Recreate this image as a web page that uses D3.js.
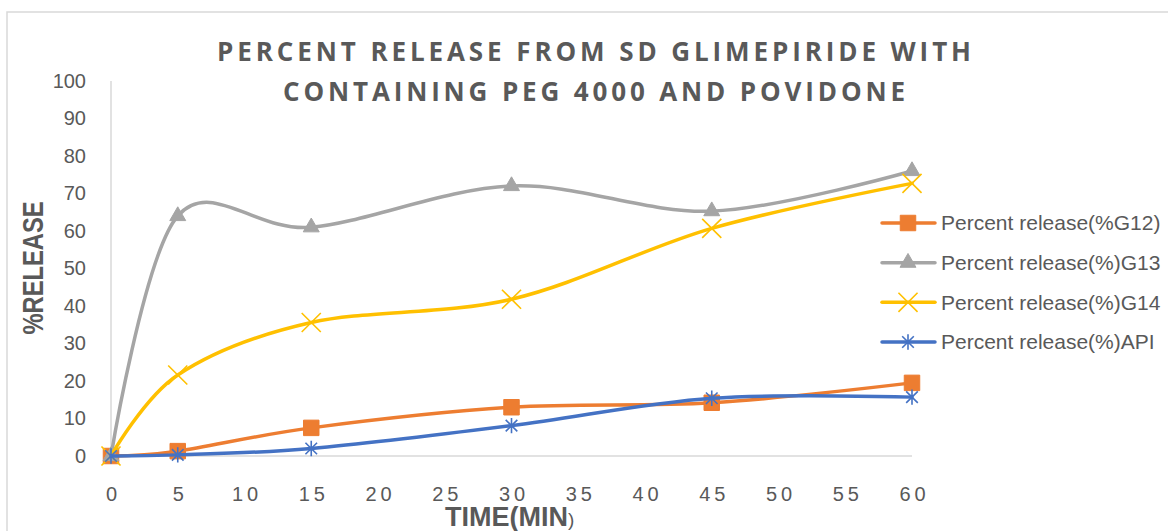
<!DOCTYPE html>
<html>
<head>
<meta charset="utf-8">
<script src="https://cdn.jsdelivr.net/npm/d3@7"></script>
<style>
  body { margin: 0; background: #fff; }
  svg { display: block; }
</style>
</head>
<body>
<svg id="chart" width="1168" height="531"></svg>
<script>
// values
const times = [0, 5, 15, 30, 45, 60];
const g12 = [0, 1.3, 7.5, 13, 14.2, 19.5];
const g13 = [0, 64, 61, 72, 65.3, 76];
const g14 = [0, 21.6, 35.6, 41.8, 60.7, 72.7];
const api = [0, 0.3, 2, 8.1, 15.4, 15.7];

const seriesNames = ["Percent release(%G12)", "Percent release(%)G13", "Percent release(%)G14", "Percent release(%)API"];
const seriesColors = ["#ED7D31", "#A5A5A5", "#FFC000", "#4472C4"];
const xTickValues = [0, 5, 10, 15, 20, 25, 30, 35, 40, 45, 50, 55, 60];
const yTickValues = [0, 10, 20, 30, 40, 50, 60, 70, 80, 90, 100];
const titleLines = ["PERCENT RELEASE FROM SD GLIMEPIRIDE WITH", "CONTAINING PEG 4000 AND POVIDONE"];

var svg = d3.select("#chart");
const width = +svg.attr("width");
const height = +svg.attr("height");
const textColor = "#595959";
const gridColor = "#D9D9D9";

// plot area
const plotLeft = 111, plotRight = 912, plotTop = 81, plotBottom = 456;

const x = d3.scaleLinear().domain([0, 60]).range([plotLeft, plotRight]);
const y = d3.scaleLinear().domain([0, 100]).range([plotBottom, plotTop]);

// chart border (runs off the right / bottom edge like in the reference)
svg.append("rect")
    .attr("x", 7).attr("y", 12)
    .attr("width", width + 20).attr("height", height + 20)
    .attr("fill", "none")
    .attr("stroke", gridColor)
    .attr("stroke-width", 1.5);

// title, two lines, letter spaced
svg.selectAll("text.title")
    .data(titleLines)
    .enter().append("text")
    .attr("class", "title")
    .attr("x", 594)
    .attr("y", (d, i) => 61 + i * 40)
    .attr("text-anchor", "middle")
    .attr("textLength", (d, i) => i == 0 ? 754 : 622)
    .attr("lengthAdjust", "spacing")
    .style("font-family", "'Open Sans', 'Liberation Sans', sans-serif")
    .style("font-weight", "700")
    .style("font-size", "26px")
    .style("fill", textColor)
    .text(d => d);

// vertical axis line and zero line
svg.append("line")
    .attr("x1", x(0)).attr("x2", x(0))
    .attr("y1", y(100)).attr("y2", y(0))
    .attr("stroke", gridColor).attr("stroke-width", 1.5);
svg.append("line")
    .attr("x1", x(0)).attr("x2", x(60))
    .attr("y1", y(0)).attr("y2", y(0))
    .attr("stroke", gridColor).attr("stroke-width", 1.5);

// y axis labels
var yAxis = svg.append("g")
    .attr("transform", "translate(" + plotLeft + ",0)")
    .call(d3.axisLeft(y).tickValues(yTickValues).tickSize(0).tickPadding(25));
yAxis.select(".domain").remove();
yAxis.selectAll("text")
    .style("font-family", "'Liberation Sans', Arial, sans-serif")
    .style("font-size", "20px")
    .style("fill", textColor);

// x axis labels (spread out digits like the original)
const letterSp = 4;
var xAxis = svg.append("g")
    .attr("transform", "translate(0," + plotBottom + ")")
    .call(d3.axisBottom(x).tickValues(xTickValues).tickSize(0).tickPadding(31));
xAxis.select(".domain").remove();
xAxis.selectAll("text")
    .attr("dx", letterSp / 2)
    .style("letter-spacing", letterSp + "px")
    .style("font-family", "'Liberation Sans', Arial, sans-serif")
    .style("font-size", "20px")
    .style("fill", textColor);

// axis titles
var xTitle = svg.append("text")
    .attr("x", 445).attr("y", 526)
    .style("font-family", "'Liberation Sans', Arial, sans-serif")
    .style("fill", textColor);
xTitle.append("tspan")
    .style("font-weight", "700").style("font-size", "27px")
    .text("TIME(MIN");
xTitle.append("tspan")
    .style("font-size", "19px")
    .text(")");

// narrow bold y title, squeezed to the original length
svg.append("text")
    .attr("transform", "translate(43," + 268 + ")rotate(-90)")
    .attr("text-anchor", "middle")
    .attr("textLength", 133)
    .attr("lengthAdjust", "spacingAndGlyphs")
    .style("font-family", "'Liberation Sans', Arial, sans-serif")
    .style("font-weight", "700")
    .style("font-size", "29px")
    .style("fill", textColor)
    .text("%RELEASE");

// marker shapes, Excel style
const symbolStar = {
    draw: function (ctx, size) {
        const r = Math.sqrt(size) / 2;
        ctx.moveTo(0, -r); ctx.lineTo(0, r);
        ctx.moveTo(-r * 0.75, -r * 0.75); ctx.lineTo(r * 0.75, r * 0.75);
        ctx.moveTo(-r * 0.75, r * 0.75); ctx.lineTo(r * 0.75, -r * 0.75);
    }
};
const markers = [
    { type: d3.symbolSquare, size: 240, filled: true },
    { type: d3.symbolTriangle, size: 110, filled: true },
    { type: d3.symbolX, size: 240, filled: false },
    { type: symbolStar, size: 240, filled: false }
];

const allSeries = [g12, g13, g14, api].map((vals, i) => ({
    name: seriesNames[i],
    color: seriesColors[i],
    marker: markers[i],
    points: vals.map((v, j) => ({ t: times[j], v: v }))
}));

// smoothed lines like Excel "smoothed line"
const line = d3.line()
    .x(d => x(d.t))
    .y(d => y(d.v))
    .curve(d3.curveCardinal.tension(0));

const drawMarker = (sel, s) => {
    sel.attr("d", d3.symbol().type(s.marker.type).size(s.marker.size)())
        .attr("fill", s.marker.filled ? s.color : "none")
        .attr("stroke", s.color)
        .attr("stroke-width", s.marker.filled ? 1 : 1.6);
};

allSeries.forEach((s) => {
    var g = svg.append("g");
    g.append("path")
        .datum(s.points)
        .attr("d", line)
        .attr("fill", "none")
        .attr("stroke", s.color)
        .attr("stroke-width", 3.5)
        .attr("stroke-linecap", "round");
    g.selectAll("path.marker")
        .data(s.points)
        .enter().append("path")
        .attr("class", "marker")
        .attr("transform", d => "translate(" + x(d.t) + "," + y(d.v) + ")")
        .call(drawMarker, s);
});

// legend
const legendY = d3.scaleLinear().domain([0, 3]).range([223, 342]);
var legend = svg.append("g");
allSeries.forEach((s, i) => {
    var row = legend.append("g")
        .attr("transform", "translate(0," + legendY(i) + ")");
    row.append("line")
        .attr("x1", 882).attr("x2", 935)
        .attr("stroke", s.color)
        .attr("stroke-width", 3.5)
        .attr("stroke-linecap", "round");
    row.append("path")
        .attr("transform", "translate(908,0)")
        .call(drawMarker, s);
    row.append("text")
        .attr("x", 941)
        .attr("dy", "0.35em")
        .style("font-family", "'Liberation Sans', Arial, sans-serif")
        .style("font-size", "21px")
        .style("fill", textColor)
        .text(s.name);
});
</script>
</body>
</html>
